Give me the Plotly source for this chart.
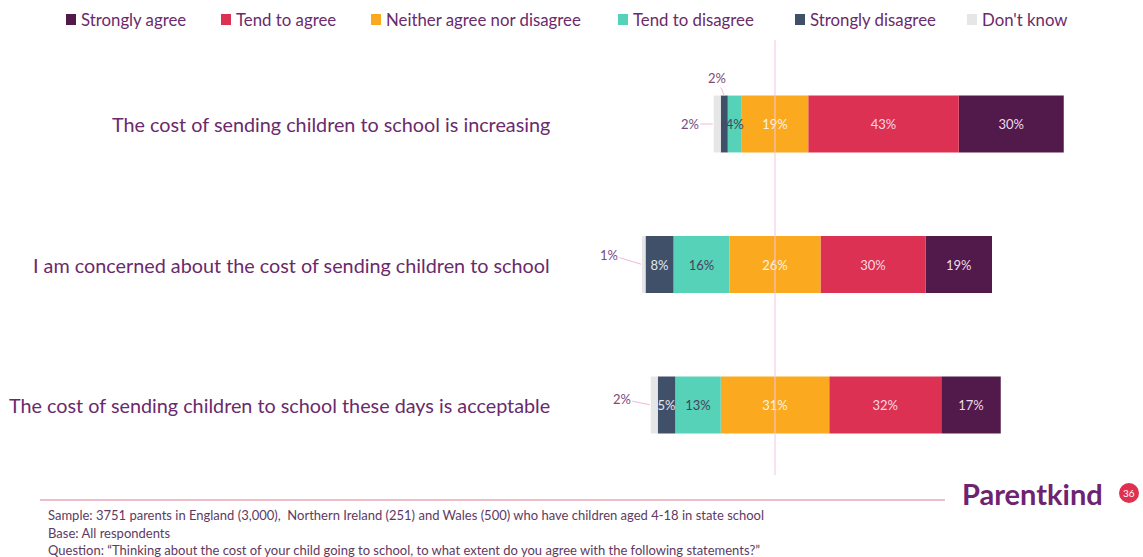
import numpy as np
import plotly.graph_objects as go

# Survey statements (top to bottom) and response shares in percent
statements = [
    "The cost of sending children to school is increasing",
    "I am concerned about the cost of sending children to school",
    "The cost of sending children to school these days is acceptable",
]
dont_know = [2, 1, 2]
strongly_disagree = [2, 8, 5]
tend_to_disagree = [4, 16, 13]
neither = [19, 26, 31]
tend_to_agree = [43, 30, 32]
strongly_agree = [30, 19, 17]

categories = ["Strongly agree", "Tend to agree", "Neither agree nor disagree",
              "Tend to disagree", "Strongly disagree", "Don't know"]
colors = {
    "Strongly agree": "#521a4b",
    "Tend to agree": "#dc3152",
    "Neither agree nor disagree": "#fba91e",
    "Tend to disagree": "#55d2b8",
    "Strongly disagree": "#3f5068",
    "Don't know": "#e6e6e6",
}
label_colors = {
    "Strongly agree": "#eedcea",
    "Tend to agree": "#f6dbe2",
    "Neither agree nor disagree": "#fdf3e3",
    "Tend to disagree": "#4b3f5c",
    "Strongly disagree": "#e4e6ee",
    "Don't know": "#6e3a70",
}

TEXT_PURPLE = "#6a2a6c"
FONT = "Lato"
W, H = 1143, 557

# Left-to-right stacking order; the bars are centred on the middle of "Neither"
stack_order = ["Don't know", "Strongly disagree", "Tend to disagree",
               "Neither agree nor disagree", "Tend to agree", "Strongly agree"]
values = {
    "Don't know": np.array(dont_know, float),
    "Strongly disagree": np.array(strongly_disagree, float),
    "Tend to disagree": np.array(tend_to_disagree, float),
    "Neither agree nor disagree": np.array(neither, float),
    "Tend to agree": np.array(tend_to_agree, float),
    "Strongly agree": np.array(strongly_agree, float),
}
mat = np.vstack([values[c] for c in stack_order])
start = -(mat[0] + mat[1] + mat[2] + mat[3] / 2.0)
bases = {}
run = start.copy()
for c, row in zip(stack_order, mat):
    bases[c] = run.copy()
    run = run + row

fig = go.Figure()
rows = list(range(len(statements)))
for c in categories:
    v = values[c]
    txt = [f"{int(x)}%" if x >= 3 else "" for x in v]
    fig.add_trace(go.Bar(
        y=rows, x=v, base=bases[c], orientation="h", name=c,
        marker=dict(color=colors[c], line=dict(width=0)),
        width=0.405, text=txt, textposition="inside", textangle=0,
        insidetextanchor="middle", constraintext="none",
        textfont=dict(family=FONT, size=13, color=label_colors[c]),
        showlegend=False, hoverinfo="skip",
    ))

# pixel -> axis mapping
PX_PER_PCT = 3.5
ZERO_PX = 775
x_range = [-ZERO_PX / PX_PER_PCT, (W - ZERO_PX) / PX_PER_PCT]
ROW0_PX, ROW_STEP = 124, 140.5
y_range = [(H - ROW0_PX) / ROW_STEP, -ROW0_PX / ROW_STEP]

annotations = []
shapes = []

# Statement labels
for i, s in enumerate(statements):
    annotations.append(dict(
        x=552 / W, xref="paper", y=i, yref="y", text=s, showarrow=False,
        xanchor="right", yanchor="middle",
        font=dict(family=FONT, size=19.8, color=TEXT_PURPLE)))

# Leader-line labels for the narrow segments
callout = dict(showarrow=True, arrowhead=0, arrowwidth=1, arrowcolor="#f2b8dc",
               font=dict(family=FONT, size=13, color="#7a4a7c"))
for i in rows:
    dk = values["Don't know"][i]
    sd = values["Strongly disagree"][i]
    offs = {0: (-24, 0), 1: (-33, -10), 2: (-29, -6)}[i]
    annotations.append(dict(x=bases["Don't know"][i], y=i, xref="x", yref="y",
                            text=f"{int(dk)}%", ax=offs[0], ay=offs[1],
                            standoff=1, **callout))
    if sd < 3:
        annotations.append(dict(x=bases["Strongly disagree"][i] + sd / 2, y=i - 0.2,
                                xref="x", yref="y", text=f"{int(sd)}%",
                                ax=-7, ay=-18, standoff=0, **callout))

# Custom legend row
legend_x = [66, 221, 371, 618, 795, 967]
for c, lx in zip(categories, legend_x):
    shapes.append(dict(type="rect", xref="paper", yref="paper",
                       x0=lx / W, x1=(lx + 10) / W,
                       y0=1 - 25 / H, y1=1 - 14 / H,
                       fillcolor=colors[c], line=dict(width=0)))
    annotations.append(dict(x=(lx + 13) / W, y=1 - 19.5 / H, xref="paper", yref="paper",
                            text=c, showarrow=False, xanchor="left", yanchor="middle",
                            font=dict(family=FONT, size=16.8, color=TEXT_PURPLE)))

# Centre reference line
shapes.append(dict(type="line", xref="x", yref="paper", x0=0, x1=0,
                   y0=1 - 475 / H, y1=1 - 40 / H, layer="above",
                   line=dict(color="#f6c4e4", width=1)))

# Footer rule, brand and page number
shapes.append(dict(type="line", xref="paper", yref="paper", x0=40 / W, x1=945 / W,
                   y0=1 - 500 / H, y1=1 - 500 / H,
                   line=dict(color="#eaa6b8", width=1.5)))
annotations.append(dict(x=1105 / W, y=1 - 493 / H, xref="paper", yref="paper",
                        text="<b>Parentkind</b>", showarrow=False, xanchor="right",
                        yanchor="middle",
                        font=dict(family=FONT, size=29, color="#6e2370")))
shapes.append(dict(type="circle", xref="paper", yref="paper",
                   x0=1119 / W, x1=1139 / W, y0=1 - 503 / H, y1=1 - 483 / H,
                   fillcolor="#e0304f", line=dict(width=0)))
annotations.append(dict(x=1129 / W, y=1 - 493 / H, xref="paper", yref="paper",
                        text="36", showarrow=False, xanchor="center", yanchor="middle",
                        font=dict(family=FONT, size=10, color="white")))

footnotes = [
    "Sample: 3751 parents in England (3,000),  Northern Ireland (251) and Wales (500) who have children aged 4-18 in state school",
    "Base: All respondents",
    "Question: \u201cThinking about the cost of your child going to school, to what extent do you agree with the following statements?\u201d",
]
for k, line in enumerate(footnotes):
    annotations.append(dict(x=46 / W, y=1 - (515 + 17.5 * k) / H, xref="paper",
                            yref="paper", text=line, showarrow=False,
                            xanchor="left", yanchor="middle",
                            font=dict(family=FONT, size=13, color="#5e3a62")))

fig.update_layout(
    width=W, height=H, margin=dict(l=0, r=0, t=0, b=0),
    paper_bgcolor="white", plot_bgcolor="white",
    barmode="overlay",
    xaxis=dict(range=x_range, visible=False, fixedrange=True),
    yaxis=dict(range=y_range, visible=False, fixedrange=True),
    annotations=annotations, shapes=shapes,
    font=dict(family=FONT),
)

fig.write_html("out.html")
